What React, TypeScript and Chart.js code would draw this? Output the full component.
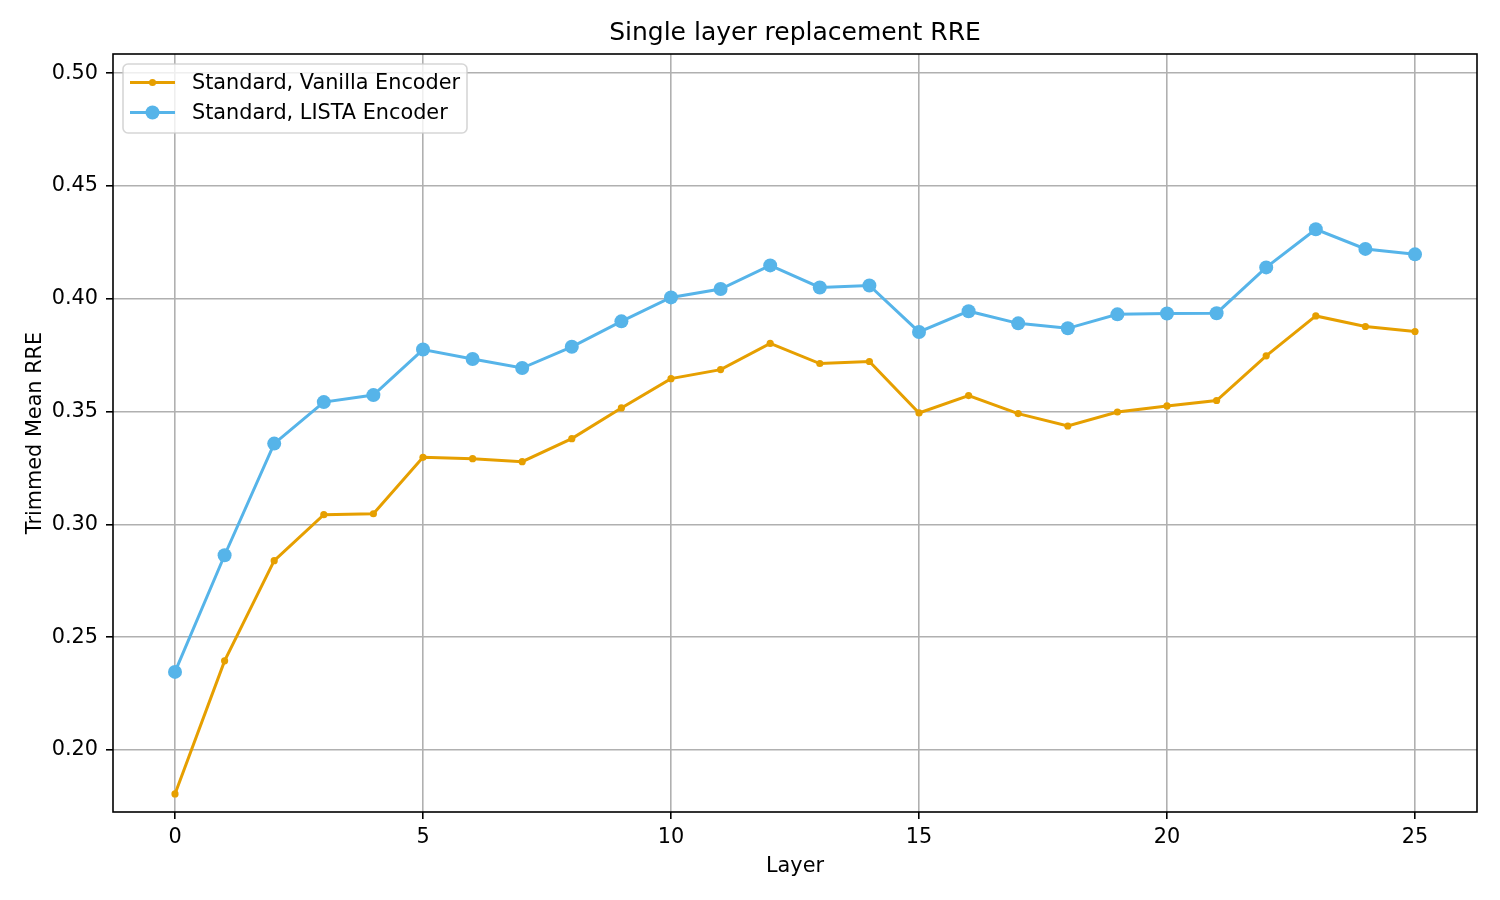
import { useEffect, useRef } from "react"
import { Chart, registerables } from "chart.js"

Chart.register(...registerables)

// values
const layers = [0, 1, 2, 3, 4, 5, 6, 7, 8, 9, 10, 11, 12, 13, 14, 15, 16, 17, 18, 19, 20, 21, 22, 23, 24, 25]
const vanillaRRE = [
  0.1805, 0.2395, 0.2839, 0.3043, 0.3047, 0.3297, 0.3291, 0.3278, 0.338, 0.3516, 0.3646, 0.3686, 0.3802,
  0.3713, 0.3722, 0.3494, 0.3571, 0.3491, 0.3436, 0.3498, 0.3525, 0.3549, 0.3747, 0.3924, 0.3877, 0.3855,
]
const listaRRE = [
  0.2346, 0.2863, 0.3358, 0.3542, 0.3573, 0.3775, 0.3733, 0.3693, 0.3787, 0.39, 0.4006, 0.4043, 0.4148,
  0.405, 0.4059, 0.3853, 0.3945, 0.3891, 0.3869, 0.3931, 0.3935, 0.3936, 0.4139, 0.4308, 0.4221, 0.4197,
]
const xTicks = [0, 5, 10, 15, 20, 25]
const yTicks = [0.2, 0.25, 0.3, 0.35, 0.4, 0.45, 0.5]

const FONT = "'DejaVu Sans', sans-serif"
const ORANGE = "#E69F00"
const BLUE = "#56B4E9"
const TEXT_SIZE = 20.8

// matplotlib style frame (all four spines)
const framePlugin = {
  id: "frame",
  afterDatasetsDraw(chart: Chart) {
    const { ctx, chartArea: a } = chart
    ctx.save()
    ctx.strokeStyle = "#000"
    ctx.lineWidth = 1.6
    ctx.strokeRect(a.left, a.top, a.right - a.left, a.bottom - a.top)
    ctx.restore()
  },
}

// legend box with line + marker handles
const legendPlugin = {
  id: "mplLegend",
  afterDraw(chart: Chart) {
    const { ctx, chartArea: a } = chart
    const x = a.left + 10
    const y = a.top + 10
    const w = 344
    const h = 69
    ctx.save()
    ctx.beginPath()
    ctx.roundRect(x, y, w, h, 5)
    ctx.fillStyle = "rgba(255,255,255,0.8)"
    ctx.fill()
    ctx.strokeStyle = "rgba(204,204,204,0.8)"
    ctx.lineWidth = 1.6
    ctx.stroke()
    chart.data.datasets.forEach((ds: any, i: number) => {
      const cy = y + 18.5 + i * 30
      ctx.strokeStyle = ds.borderColor
      ctx.lineWidth = ds.borderWidth
      ctx.beginPath()
      ctx.moveTo(x + 7, cy)
      ctx.lineTo(x + 52, cy)
      ctx.stroke()
      ctx.fillStyle = ds.borderColor
      ctx.beginPath()
      ctx.arc(x + 29.5, cy, ds.pointRadius, 0, Math.PI * 2)
      ctx.fill()
      ctx.fillStyle = "#000"
      ctx.font = `${TEXT_SIZE}px ${FONT}`
      ctx.textBaseline = "middle"
      ctx.textAlign = "left"
      ctx.fillText(ds.label, x + 69, cy + 1)
    })
    ctx.restore()
  },
}

export default function App() {
  const canvasRef = useRef<HTMLCanvasElement>(null)
  const chartRef = useRef<Chart | null>(null)

  useEffect(() => {
    if (!canvasRef.current) return
    if (chartRef.current) chartRef.current.destroy()

    const tickFont = { family: FONT, size: TEXT_SIZE }

    chartRef.current = new Chart(canvasRef.current, {
      type: "line",
      data: {
        datasets: [
          {
            label: "Standard, Vanilla Encoder",
            data: layers.map((l, i) => ({ x: l, y: vanillaRRE[i] })),
            borderColor: ORANGE,
            backgroundColor: ORANGE,
            pointBackgroundColor: ORANGE,
            borderWidth: 3,
            pointRadius: 3.6,
            pointBorderWidth: 0,
            tension: 0,
            order: 1,
          },
          {
            label: "Standard, LISTA Encoder",
            data: layers.map((l, i) => ({ x: l, y: listaRRE[i] })),
            borderColor: BLUE,
            backgroundColor: BLUE,
            pointBackgroundColor: BLUE,
            borderWidth: 3,
            pointRadius: 7,
            pointBorderWidth: 0,
            tension: 0,
            order: 0,
          },
        ],
      },
      options: {
        animation: false,
        responsive: true,
        maintainAspectRatio: false,
        layout: { padding: { left: 0, right: 23, top: 0, bottom: 0 } },
        plugins: {
          legend: { display: false },
          tooltip: { enabled: false },
          title: {
            display: true,
            fullSize: false,
            text: "Single layer replacement RRE",
            color: "#000",
            font: { family: FONT, size: 25, weight: "normal" },
            padding: { top: 18, bottom: 6 },
          },
        },
        scales: {
          x: {
            type: "linear",
            min: -1.25,
            max: 26.25,
            afterBuildTicks: (axis: any) => {
              axis.ticks = xTicks.map((v) => ({ value: v }))
            },
            afterFit: (axis: any) => {
              axis.height = 88
            },
            ticks: {
              color: "#000",
              font: tickFont,
              padding: 6,
              autoSkip: false,
              maxRotation: 0,
              callback: (v: any) => String(v),
            },
            grid: {
              color: "#b0b0b0",
              lineWidth: 1.6,
              tickColor: "#000",
              tickLength: 7,
              tickWidth: 1.6,
            },
            border: { display: false },
            title: {
              display: true,
              text: "Layer",
              color: "#000",
              font: tickFont,
              padding: { top: 0, bottom: 21 },
            },
          },
          y: {
            type: "linear",
            min: 0.1725,
            max: 0.5085,
            afterBuildTicks: (axis: any) => {
              axis.ticks = yTicks.map((v) => ({ value: v }))
            },
            afterFit: (axis: any) => {
              axis.width = 113
            },
            ticks: {
              color: "#000",
              font: tickFont,
              padding: 8,
              autoSkip: false,
              callback: (v: any) => Number(v).toFixed(2),
            },
            grid: {
              color: "#b0b0b0",
              lineWidth: 1.6,
              tickColor: "#000",
              tickLength: 7,
              tickWidth: 1.6,
            },
            border: { display: false },
            title: {
              display: true,
              text: "Trimmed Mean RRE",
              color: "#000",
              font: tickFont,
              padding: { top: 23.5, bottom: 0 },
            },
          },
        },
      },
      plugins: [framePlugin, legendPlugin],
    })

    return () => {
      if (chartRef.current) {
        chartRef.current.destroy()
        chartRef.current = null
      }
    }
  }, [])

  return (
    <div style={{ position: "absolute", left: 0, top: 0, width: 1500, height: 900, background: "#fff" }}>
      <canvas ref={canvasRef} />
    </div>
  )
}
